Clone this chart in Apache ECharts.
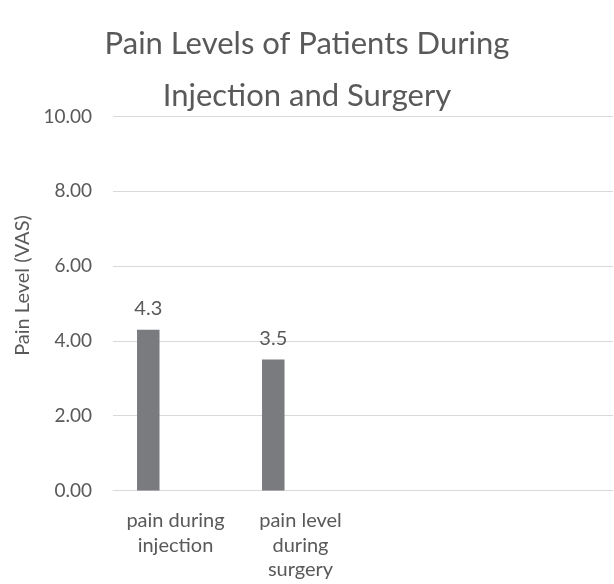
<!DOCTYPE html>
<html>
<head>
<meta charset="utf-8">
<script src="https://cdn.jsdelivr.net/npm/echarts@6/dist/echarts.min.js"></script>
<style>html,body{margin:0;padding:0;background:#fff}#c{width:614px;height:584px}</style>
</head>
<body>
<div id="c"></div>
<script>
var titleText = 'Pain Levels of Patients During\nInjection and Surgery';
var categories = ['pain during\ninjection', 'pain level\nduring\nsurgery', '', ''];
var painValues = [4.3, 3.5, null, null];
var emptySeries = [null, null, null, null];
var yAxisName = 'Pain Level (VAS)';
var yMin = 0, yMax = 10, yInterval = 2;

var FONT = 'Lato';
var chart = echarts.init(document.getElementById('c'), null, {renderer: 'canvas'});
chart.setOption({
  animation: false,
  backgroundColor: '#ffffff',
  title: {
    text: titleText,
    left: 'center',
    top: 13,
    textStyle: {fontFamily: FONT, fontSize: 31, fontWeight: 'normal', color: '#595959', lineHeight: 52}
  },
  grid: {left: 113, right: 1, top: 116.5, bottom: 93.5, containLabel: false},
  xAxis: {
    type: 'category',
    data: categories,
    axisLine: {show: true, lineStyle: {color: '#d9d9d9', width: 1}},
    axisTick: {show: false},
    axisLabel: {fontFamily: FONT, fontSize: 20, color: '#595959', lineHeight: 24.5, margin: 18, interval: 0}
  },
  yAxis: {
    type: 'value',
    min: yMin, max: yMax, interval: yInterval,
    name: yAxisName,
    nameLocation: 'middle',
    nameGap: 80,
    nameTextStyle: {fontFamily: FONT, fontSize: 20, color: '#595959', padding: [0, 0, 0, 36]},
    axisLine: {show: false},
    axisTick: {show: false},
    splitLine: {lineStyle: {color: '#d9d9d9', width: 1}},
    axisLabel: {fontFamily: FONT, fontSize: 19, color: '#595959', margin: 21,
      formatter: function (v) { return v.toFixed(2); }}
  },
  series: [
    {
      type: 'bar',
      data: painValues,
      barWidth: 22.5,
      barGap: '142%',
      itemStyle: {color: '#7a7b7f'},
      label: {show: true, position: 'top', distance: 11, fontFamily: FONT, fontSize: 20, color: '#595959',
        formatter: function (p) { return p.value; }}
    },
    {
      type: 'bar',
      data: emptySeries,
      barWidth: 22.5,
      itemStyle: {color: '#a5a5a5'}
    }
  ]
});
</script>
</body>
</html>
